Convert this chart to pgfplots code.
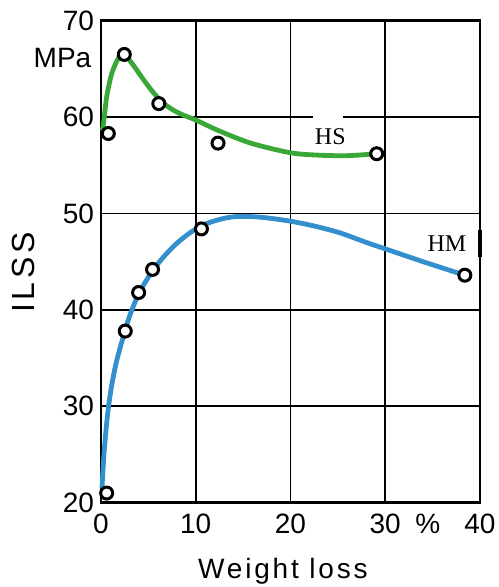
\documentclass[border=0pt]{standalone}
\usepackage{fontspec}
\setmainfont{Liberation Sans}
\newfontfamily\seriffont{Liberation Serif}
\usepackage{pgfplots}
\pgfplotsset{compat=1.18}
\definecolor{hsgreen}{RGB}{58,168,56}
\definecolor{hmblue}{RGB}{52,144,204}
\begin{document}
\begin{tikzpicture}
\useasboundingbox (-50.5pt,-42.15pt) rectangle (198.5pt,251.35pt);
\begin{axis}[
  scale only axis, width=189.5pt, height=241pt,
  xmin=0, xmax=40, ymin=20, ymax=70,
  xtick={0,10,20,30,40}, ytick={20,30,40,50,60,70},
  extra x ticks={34.5}, extra x tick labels={\%}, extra x tick style={grid=none},
  grid=major, grid style={black, line width=0.9pt},
  axis line style={black, line width=1.3pt},
  major tick length=0pt,
  tick label style={font=\fontsize{14}{16}\selectfont},
  /pgf/number format/assume math mode=true,
  xticklabel style={yshift=-2.3pt},
  clip=false,
]
% gap in the 60 grid line
\fill[white] (axis cs:22.4,59.7) rectangle (axis cs:25.5,60.3);
% HS curve
\addplot[hsgreen, line width=2.4pt, smooth] coordinates {
  (0.15,58.6) (0.3,59.6) (0.6,62.1) (1.13,64.5) (1.83,66.1) (2.46,66.6)};
\addplot[hsgreen, line width=2.4pt, smooth] coordinates {
  (2.46,66.6) (3.4,65.4) (4.4,64.0) (5.4,62.7) (6.4,61.6) (7.5,60.8)
  (8.7,60.2) (10,59.7) (12.4,58.6) (15.8,57.3) (20,56.3) (23,56.05)
  (26,56.0) (29.1,56.2)};
% HM curve
\addplot[hmblue, line width=2.4pt, smooth] coordinates {
  (0.1,21.5) (0.35,25.5) (0.7,29.2) (1.1,32.0) (1.6,34.5) (2.2,36.7)
  (3.0,39.3) (4.0,41.7) (5.4,44.0) (6.7,45.6) (8.0,46.9) (9.4,48.0)
  (11,48.9) (13,49.5) (14.7,49.7) (17,49.6) (20,49.2) (22.5,48.7)
  (25.2,48.0) (28,47.0) (31,46.0) (34,45.0) (36.5,44.2) (38.4,43.6)};
% measured points
\addplot[only marks, mark=*, mark size=3.0pt, mark options={draw=black, fill=white, line width=1.5pt}]
  coordinates {(0.77,58.3) (2.46,66.5) (6.1,61.4) (12.35,57.3) (29.1,56.2)};
\addplot[only marks, mark=*, mark size=3.0pt, mark options={draw=black, fill=white, line width=1.5pt}]
  coordinates {(0.6,21.0) (2.56,37.8) (3.97,41.8) (5.44,44.2) (10.6,48.4) (38.4,43.6)};
% labels
\node[font=\seriffont\fontsize{12}{14}\selectfont] at (axis cs:24.2,58.0) {HS};
\node[font=\seriffont\fontsize{12}{14}\selectfont] at (axis cs:36.5,46.9) {HM};
\draw[black, line width=1.6pt] (axis cs:40,45.5) -- (axis cs:40,48.3);
\node[anchor=east, inner sep=0pt, xshift=-4.65pt, font=\fontsize{14}{16}\selectfont] at (axis cs:0,66.1) {MPa};
\node[rotate=90, inner sep=0pt, font=\fontsize{16}{18}\selectfont\addfontfeature{LetterSpace=12}] at ([xshift=-38.75pt]axis cs:0,43.9) {ILSS};
\node[anchor=base, inner sep=0pt, font=\fontsize{14}{16}\selectfont\addfontfeature{LetterSpace=10}] at ([yshift=-37.65pt]axis cs:19.2,20) {Weight loss};
\end{axis}
\end{tikzpicture}
\end{document}
